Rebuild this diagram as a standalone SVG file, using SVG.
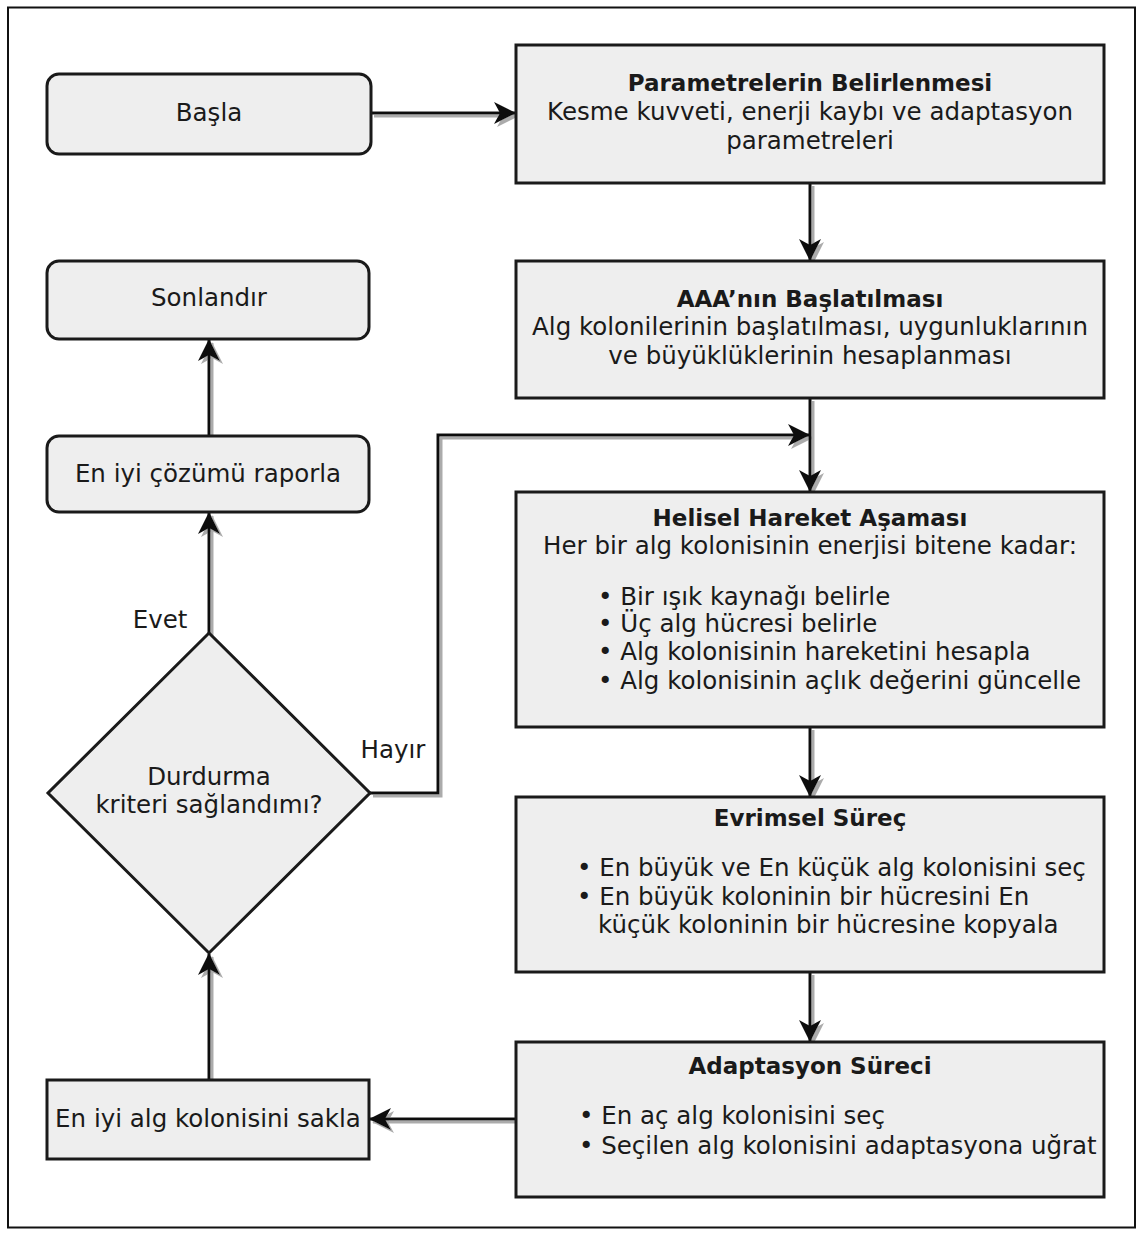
<svg xmlns="http://www.w3.org/2000/svg" width="1143" height="1235" viewBox="0 0 1143 1235">
<defs>
<style>
.box{fill:#eeeeee;stroke:#1a1a1a;stroke-width:3}
.t{font-family:"DejaVu Sans","Verdana",sans-serif;font-size:24.5px;fill:#1a1a1a}
.b{font-family:"DejaVu Sans","Verdana",sans-serif;font-size:23px;font-weight:bold;fill:#1a1a1a}
.c{text-anchor:middle}
.ln{fill:none;stroke:#111;stroke-width:3}
</style>
<marker id="arr" viewBox="0 0 22 22" refX="21" refY="11" markerWidth="22" markerHeight="22" markerUnits="userSpaceOnUse" orient="auto">
<path d="M0,0 L22,11 L0,22 L6,11 Z" fill="#111"/>
</marker>
<filter id="sh" x="-10%" y="-10%" width="130%" height="130%">
<feDropShadow dx="3" dy="3" stdDeviation="0.6" flood-color="#888" flood-opacity="0.7"/>
</filter>
</defs>
<rect x="0" y="0" width="1143" height="1235" fill="#ffffff"/>
<rect x="8" y="7.5" width="1127" height="1220" fill="none" stroke="#111" stroke-width="2"/>

<g id="connectors" filter="url(#sh)">
<line class="ln" x1="371" y1="113" x2="515" y2="113" marker-end="url(#arr)"/>
<line class="ln" x1="810" y1="183" x2="810" y2="260" marker-end="url(#arr)"/>
<line class="ln" x1="810" y1="398" x2="810" y2="491" marker-end="url(#arr)"/>
<polyline class="ln" points="370,793 438,793 438,435 809,435" marker-end="url(#arr)"/>
<line class="ln" x1="810" y1="727" x2="810" y2="796" marker-end="url(#arr)"/>
<line class="ln" x1="810" y1="972" x2="810" y2="1041" marker-end="url(#arr)"/>
<line class="ln" x1="516" y1="1119" x2="370" y2="1119" marker-end="url(#arr)"/>
<line class="ln" x1="209" y1="1080" x2="209" y2="954" marker-end="url(#arr)"/>
<line class="ln" x1="209" y1="633" x2="209" y2="513" marker-end="url(#arr)"/>
<line class="ln" x1="209" y1="436" x2="209" y2="340" marker-end="url(#arr)"/>
</g>

<g id="node-basla">
<rect class="box" x="47" y="74" width="324" height="80" rx="12"/>
<text class="t c" x="209" y="121">Başla</text>
</g>

<g id="node-parametre">
<rect class="box" x="516" y="45" width="588" height="138"/>
<text class="b c" x="810" y="91">Parametrelerin Belirlenmesi</text>
<text class="t c" x="810" y="120">Kesme kuvveti, enerji kaybı ve adaptasyon</text>
<text class="t c" x="810" y="149">parametreleri</text>
</g>

<g id="node-aaa">
<rect class="box" x="516" y="261" width="588" height="137"/>
<text class="b c" x="810" y="307">AAA’nın Başlatılması</text>
<text class="t c" x="810" y="335">Alg kolonilerinin başlatılması, uygunluklarının</text>
<text class="t c" x="810" y="364">ve büyüklüklerinin hesaplanması</text>
</g>

<g id="node-helisel">
<rect class="box" x="516" y="492" width="588" height="235"/>
<text class="b c" x="810" y="526">Helisel Hareket Aşaması</text>
<text class="t c" x="810" y="554">Her bir alg kolonisinin enerjisi bitene kadar:</text>
<text class="t" x="598" y="605">• Bir ışık kaynağı belirle</text>
<text class="t" x="598" y="632">• Üç alg hücresi belirle</text>
<text class="t" x="598" y="660">• Alg kolonisinin hareketini hesapla</text>
<text class="t" x="598" y="689">• Alg kolonisinin açlık değerini güncelle</text>
</g>

<g id="node-evrimsel">
<rect class="box" x="516" y="797" width="588" height="175"/>
<text class="b c" x="810" y="826">Evrimsel Süreç</text>
<text class="t" x="577" y="876">• En büyük ve En küçük alg kolonisini seç</text>
<text class="t" x="577" y="905">• En büyük koloninin bir hücresini En</text>
<text class="t" x="598" y="933">küçük koloninin bir hücresine kopyala</text>
</g>

<g id="node-adaptasyon">
<rect class="box" x="516" y="1042" width="588" height="155"/>
<text class="b c" x="810" y="1074">Adaptasyon Süreci</text>
<text class="t" x="579" y="1124">• En aç alg kolonisini seç</text>
<text class="t" x="579" y="1154">• Seçilen alg kolonisini adaptasyona uğrat</text>
</g>

<g id="node-sakla">
<rect class="box" x="47" y="1080" width="322" height="79"/>
<text class="t c" x="208" y="1127">En iyi alg kolonisini sakla</text>
</g>

<g id="node-karar">
<polygon class="box" points="209,633 370,793 209,953 48,793"/>
<text class="t c" x="209" y="785">Durdurma</text>
<text class="t c" x="209" y="813">kriteri sağlandımı?</text>
</g>

<g id="node-raporla">
<rect class="box" x="47" y="436" width="322" height="76" rx="12"/>
<text class="t c" x="208" y="482">En iyi çözümü raporla</text>
</g>

<g id="node-sonlandir">
<rect class="box" x="47" y="261" width="322" height="78" rx="12"/>
<text class="t c" x="209" y="306">Sonlandır</text>
</g>

<g id="labels">
<text class="t c" x="160" y="628">Evet</text>
<text class="t c" x="393" y="758">Hayır</text>
</g>
</svg>
